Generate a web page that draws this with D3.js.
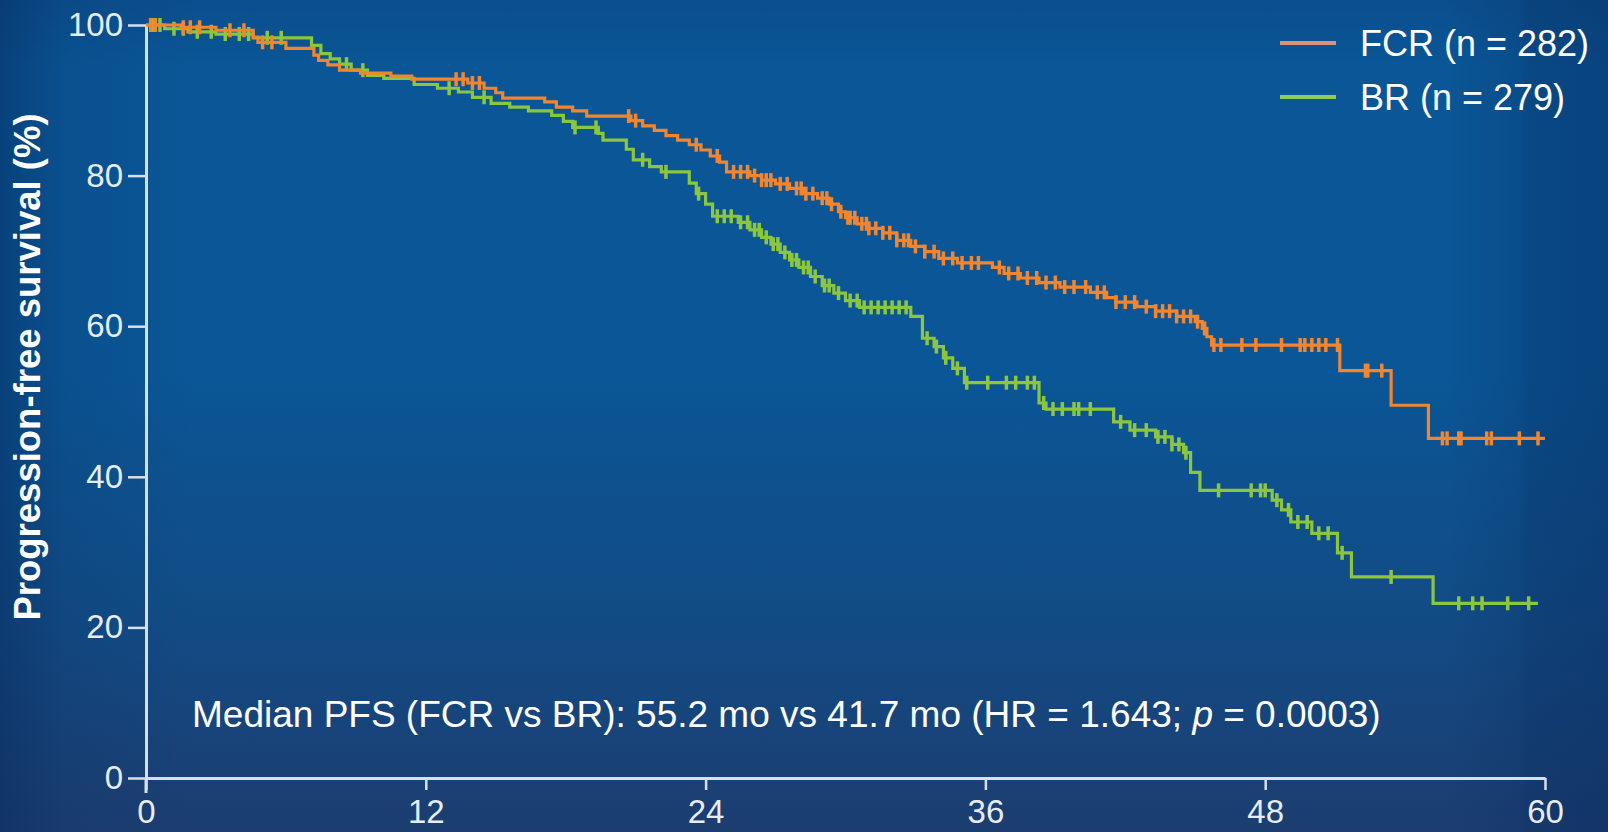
<!DOCTYPE html>
<html>
<head>
<meta charset="utf-8">
<script src="https://cdn.jsdelivr.net/npm/d3@7"></script>
<style>
  html, body { margin: 0; padding: 0; background: #0b4f8c; }
  svg { display: block; }
</style>
</head>
<body>
<svg id="chart" width="1608" height="832"></svg>
<script>
// Axis ticks (months, percent)
const xTicks = [0, 12, 24, 36, 48, 60];
const yTicks = [0, 20, 40, 60, 80, 100];

// Series labels
const seriesNames = ["FCR (n = 282)", "BR (n = 279)"];

// FCR Kaplan-Meier steps: month at which the step starts, survival (%) after it
const fcrTimes = [0, 1.5, 3.0, 4.6, 4.8, 6.0, 7.2, 7.4, 7.8, 8.3, 9.2, 10.5, 11.4, 13.8, 14.5, 15.0, 15.3,
  17.1, 17.6, 18.3, 18.9, 20.8, 21.3, 21.8, 22.3, 22.8, 23.3, 23.8, 24.2, 24.6, 24.9, 25.9, 26.4, 27.0,
  27.6, 28.2, 28.8, 29.3, 29.7, 30.0, 30.5, 31.0, 31.6, 32.2, 32.8, 33.4, 34.0, 34.8, 36.3, 36.8, 37.5,
  38.3, 39.2, 40.5, 41.2, 41.6, 42.5, 43.3, 44.2, 45.0, 45.3, 45.5, 45.7, 51.2, 53.4, 55.0];
const fcrSurv = [100, 99.7, 99.3, 98.4, 97.7, 96.9, 96.0, 95.3, 94.7, 94.0, 93.6, 93.2, 92.8, 92.3, 91.6, 91.0, 90.3,
  89.8, 89.1, 88.6, 87.9, 87.3, 86.6, 86.0, 85.3, 84.7, 84.1, 83.4, 82.6, 81.8, 80.5, 80.0, 79.4, 78.9,
  78.3, 77.6, 77.0, 76.2, 75.2, 74.4, 73.6, 73.0, 72.4, 71.4, 70.6, 69.9, 69.0, 68.4, 67.8, 67.0, 66.4,
  65.8, 65.2, 64.5, 63.8, 63.2, 62.6, 62.0, 61.3, 60.6, 59.7, 58.6, 57.5, 54.1, 49.5, 45.1];
const fcrEnd = 60.0;
const fcrCensored = [0.2, 0.4, 1.6, 1.9, 2.3, 3.6, 4.2, 5.0, 5.4, 13.3, 13.6, 14.0, 14.3, 20.7, 21.0, 23.6,
  24.5, 25.2, 25.5, 25.8, 26.1, 26.4, 26.6, 26.8, 27.2, 27.5, 27.9, 28.1, 28.3, 28.6, 29.0, 29.2, 29.4,
  29.8, 30.1, 30.2, 30.4, 30.7, 30.9, 31.0, 31.3, 31.6, 31.9, 32.2, 32.5, 32.7, 33.0, 33.4, 33.8, 34.2,
  34.6, 35.0, 35.4, 35.7, 36.6, 37.0, 37.4, 37.8, 38.2, 38.6, 39.0, 39.4, 39.8, 40.3, 40.8, 41.1, 41.6,
  42.0, 42.4, 42.9, 43.3, 43.6, 43.9, 44.2, 44.5, 44.8, 45.1, 45.4, 45.8, 46.1, 47.0, 47.6, 48.7, 49.5,
  49.7, 50.0, 50.3, 50.6, 51.1, 52.3, 52.4, 53.0, 55.6, 55.8, 56.3, 56.4, 57.5, 57.7, 58.9, 59.7];

// BR Kaplan-Meier steps
const brTimes = [0, 0.8, 1.8, 3.0, 4.6, 7.1, 7.5, 7.9, 8.3, 8.8, 9.5, 10.2, 11.5, 12.5, 13.4, 14.0, 14.8,
  15.6, 16.4, 17.4, 17.9, 18.3, 19.4, 19.6, 20.6, 20.9, 21.6, 22.1, 23.3, 23.6, 24.0, 24.3, 25.4, 25.9,
  26.4, 26.8, 27.2, 27.6, 28.0, 28.5, 29.0, 29.5, 30.0, 30.6, 32.8, 33.3, 33.8, 34.2, 34.6, 35.1, 38.3,
  38.6, 41.5, 42.2, 43.3, 44.0, 44.5, 44.8, 45.2, 48.3, 48.7, 49.1, 50.0, 51.1, 51.7, 55.2];
const brSurv = [100, 99.5, 99.1, 98.8, 98.3, 97.3, 96.2, 95.5, 94.8, 94.0, 93.3, 92.9, 92.1, 91.6, 91.1, 90.4, 89.6,
  89.1, 88.6, 88.0, 87.2, 86.4, 85.6, 84.7, 83.5, 82.1, 81.2, 80.5, 79.0, 77.6, 76.2, 74.6, 73.8, 72.8,
  71.8, 70.9, 69.8, 68.8, 67.8, 66.6, 65.4, 64.4, 63.4, 62.5, 61.3, 58.4, 57.3, 55.8, 54.4, 52.5, 49.8,
  49.0, 47.3, 46.2, 45.3, 44.3, 43.2, 40.6, 38.2, 36.9, 35.6, 34.0, 32.5, 29.9, 26.7, 23.2];
const brEnd = 59.7;
const brCensored = [0.3, 0.6, 1.2, 1.6, 2.2, 2.8, 3.4, 4.0, 4.4, 5.2, 5.8, 8.6, 9.3, 13.0, 14.5, 18.4, 19.3,
  21.3, 22.3, 23.7, 24.5, 24.8, 25.1, 25.5, 25.8, 26.1, 26.3, 26.6, 26.9, 27.1, 27.4, 27.7, 27.9, 28.2,
  28.4, 28.7, 29.1, 29.3, 29.7, 30.2, 30.5, 30.8, 31.1, 31.4, 31.7, 32.0, 32.3, 32.6, 33.5, 33.9, 34.3,
  34.8, 35.2, 36.1, 36.9, 37.3, 37.8, 38.1, 38.5, 38.9, 39.3, 39.8, 40.0, 40.5, 41.8, 42.4, 42.9, 43.4,
  43.7, 44.0, 44.3, 44.6, 46.0, 47.4, 47.8, 48.0, 48.5, 49.0, 49.4, 49.8, 50.3, 50.7, 51.3, 53.4, 56.3,
  56.9, 57.3, 58.4, 59.3];

const colors = { fcr: "#f3852f", br: "#8cc63e", fcrKey: "#dd917c", brKey: "#93c95a" };

const W = 1608, H = 832;
const svg = d3.select("#chart");
const defs = svg.append("defs");

// Background: blue slide gradient with darker edges
const bgV = defs.append("linearGradient").attr("id", "bgV").attr("x1", 0).attr("y1", 0).attr("x2", 0).attr("y2", 1);
[["0%", "#0b4e8d"], ["8%", "#0a5696"], ["45%", "#0a5696"], ["75%", "#124b84"], ["100%", "#1c3d70"]]
  .forEach(([o, c]) => bgV.append("stop").attr("offset", o).attr("stop-color", c));
const bgH = defs.append("linearGradient").attr("id", "bgH").attr("x1", 0).attr("y1", 0).attr("x2", 1).attr("y2", 0);
[["0%", "rgba(6,40,90,0.45)"], ["4%", "rgba(6,40,90,0.12)"], ["12%", "rgba(6,40,90,0)"],
 ["90%", "rgba(6,40,90,0)"], ["94.5%", "rgba(6,40,90,0.18)"], ["95%", "rgba(6,40,90,0.3)"], ["100%", "rgba(6,40,90,0.4)"]]
  .forEach(([o, c]) => bgH.append("stop").attr("offset", o).attr("stop-color", c));
svg.append("rect").attr("width", W).attr("height", H).attr("fill", "url(#bgV)");
svg.append("rect").attr("width", W).attr("height", H).attr("fill", "url(#bgH)");

// Scales
const x = d3.scaleLinear().domain([0, 60]).range([146, 1545]);
const y = d3.scaleLinear().domain([0, 100]).range([778, 25]);

const axisColor = "#d6dfeb";
const tickFont = "'Liberation Sans', Arial, sans-serif";

// Y axis
const gy = svg.append("g").attr("transform", `translate(${x(0)},0)`)
  .call(d3.axisLeft(y).tickValues(yTicks).tickSize(18).tickSizeOuter(0).tickPadding(5));
// X axis
const gx = svg.append("g").attr("transform", `translate(0,${y(0)})`)
  .call(d3.axisBottom(x).tickValues(xTicks).tickSize(12).tickSizeOuter(0).tickPadding(10));

[gx, gy].forEach(g => {
  g.select(".domain").attr("stroke", axisColor).attr("stroke-width", 3);
  g.selectAll(".tick line").attr("stroke", axisColor).attr("stroke-width", 2.5);
  g.selectAll(".tick text").attr("fill", "#e6edf5").attr("font-family", tickFont).attr("font-size", 33);
});
// y-axis continues a little below the baseline
svg.append("line").attr("x1", x(0)).attr("x2", x(0)).attr("y1", y(0)).attr("y2", y(0) + 15)
  .attr("stroke", axisColor).attr("stroke-width", 3);

// Y axis title
svg.append("text")
  .attr("transform", `translate(40,${(107 + 627) / 2}) rotate(-90)`)
  .attr("text-anchor", "middle")
  .attr("fill", "#ffffff")
  .attr("font-family", tickFont)
  .attr("font-weight", "bold")
  .attr("font-size", 36.5)
  .text("Progression-free survival (%)");

// Kaplan-Meier curves
function stepPoints(times, surv, end) {
  const pts = times.map((t, i) => [t, surv[i]]);
  pts.push([end, surv[surv.length - 1]]);
  return pts;
}
function survAt(times, surv, t) {
  const i = d3.bisectRight(times, t) - 1;
  return surv[Math.max(0, i)];
}
const line = d3.line().x(d => x(d[0])).y(d => y(d[1])).curve(d3.curveStepAfter);

const series = [
  { times: brTimes, surv: brSurv, end: brEnd, cens: brCensored, color: colors.br },
  { times: fcrTimes, surv: fcrSurv, end: fcrEnd, cens: fcrCensored, color: colors.fcr }
];

series.forEach(s => {
  svg.append("path")
    .attr("d", line(stepPoints(s.times, s.surv, s.end)))
    .attr("fill", "none")
    .attr("stroke", s.color)
    .attr("stroke-width", 3.2);
  svg.append("g").selectAll("line").data(s.cens).join("line")
    .attr("x1", d => x(d)).attr("x2", d => x(d))
    .attr("y1", d => y(survAt(s.times, s.surv, d)) - 7)
    .attr("y2", d => y(survAt(s.times, s.surv, d)) + 7)
    .attr("stroke", s.color)
    .attr("stroke-width", 3.5);
});

// Legend
const legend = svg.append("g");
[[seriesNames[0], colors.fcrKey, 43], [seriesNames[1], colors.brKey, 97]].forEach(([label, c, ly]) => {
  legend.append("line").attr("x1", 1280).attr("x2", 1336).attr("y1", ly).attr("y2", ly)
    .attr("stroke", c).attr("stroke-width", 4);
  legend.append("text").attr("x", 1360).attr("y", ly + 13)
    .attr("fill", "#ffffff").attr("font-family", tickFont).attr("font-size", 36)
    .text(label);
});

// Median PFS annotation
const note = svg.append("text").attr("x", 192).attr("y", 727)
  .attr("fill", "#ffffff").attr("font-family", tickFont).attr("font-size", 37);
note.append("tspan").text("Median PFS (FCR vs BR): 55.2 mo vs 41.7 mo (HR = 1.643; ");
note.append("tspan").attr("font-style", "italic").text("p");
note.append("tspan").text(" = 0.0003)");
</script>
</body>
</html>
